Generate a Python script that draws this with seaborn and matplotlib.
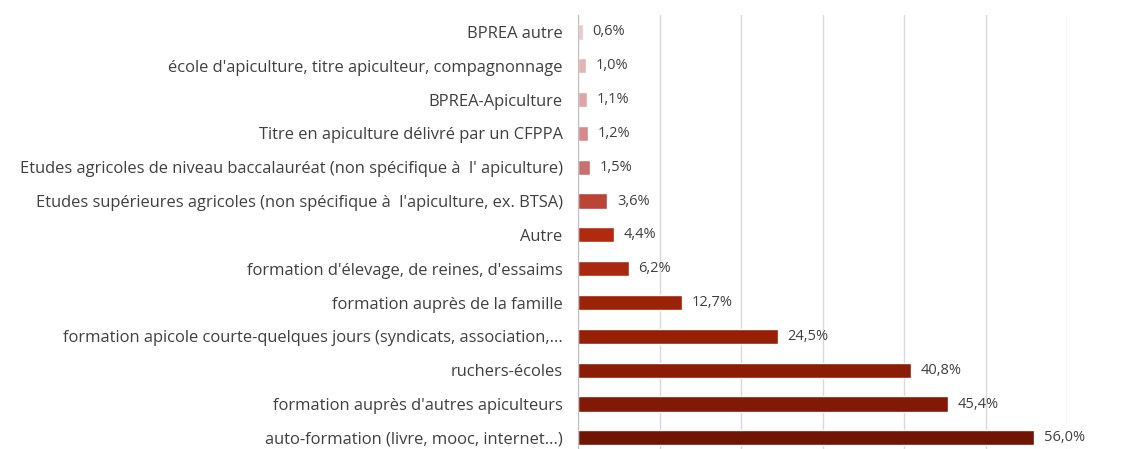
import numpy as np
import pandas as pd
import seaborn as sns
import matplotlib.pyplot as plt
from matplotlib.ticker import MultipleLocator, FixedLocator

# data (top to bottom)
categories = [
    "BPREA autre",
    "école d'apiculture, titre apiculteur, compagnonnage",
    "BPREA-Apiculture",
    "Titre en apiculture délivré par un CFPPA",
    "Etudes agricoles de niveau baccalauréat (non spécifique à  l' apiculture)",
    "Etudes supérieures agricoles (non spécifique à  l'apiculture, ex. BTSA)",
    "Autre",
    "formation d'élevage, de reines, d'essaims",
    "formation auprès de la famille",
    "formation apicole courte-quelques jours (syndicats, association,...",
    "ruchers-écoles",
    "formation auprès d'autres apiculteurs",
    "auto-formation (livre, mooc, internet...)",
]
values = [0.6, 1.0, 1.1, 1.2, 1.5, 3.6, 4.4, 6.2, 12.7, 24.5, 40.8, 45.4, 56.0]
bar_colors = ["#EBC8C8", "#E4B4B4", "#DDA5A5", "#D48A8A", "#C87070", "#BC4436",
              "#B02A10", "#A82810", "#9C2208", "#962006", "#8C1C06", "#801A06", "#701404"]

df = pd.DataFrame({"cat": categories, "val": values})

sns.set_style("white")
plt.rcParams['font.family'] = ['Open Sans', 'DejaVu Sans']

fig = plt.figure(figsize=(11.36, 4.49), dpi=100)
ax = fig.add_axes([578 / 1136, 0, 489 / 1136, 1 - 15 / 449])

sns.barplot(data=df, x="val", y="cat", hue="cat", palette=bar_colors,
            legend=False, width=0.45, saturation=1, ax=ax, orient="h")

for c in ax.containers:
    ax.bar_label(c, labels=[f"{v:.1f}%".replace(".", ",") for v in c.datavalues],
                 padding=7, fontsize=10.5, color="#404040")

ax.set_xlim(0, 60)
ax.set_ylim(12.33, -0.5)
ax.xaxis.set_major_locator(MultipleLocator(10))
ax.grid(axis="x", color="#D9D9D9", linewidth=1)
ax.set_axisbelow(True)
ax.set_xticklabels([])
ax.tick_params(axis="x", length=0)
ax.set_xlabel("")
ax.set_ylabel("")

ax.yaxis.set_minor_locator(FixedLocator(np.arange(-0.5, 13, 1)))
ax.tick_params(axis="y", which="major", length=0, pad=11, labelsize=11.9, labelcolor="#404040")
ax.tick_params(axis="y", which="minor", length=5, color="#BFBFBF", width=1)

for s in ["top", "right", "bottom"]:
    ax.spines[s].set_visible(False)
ax.spines["left"].set_color("#BFBFBF")

fig.savefig("out.png", dpi=100)
